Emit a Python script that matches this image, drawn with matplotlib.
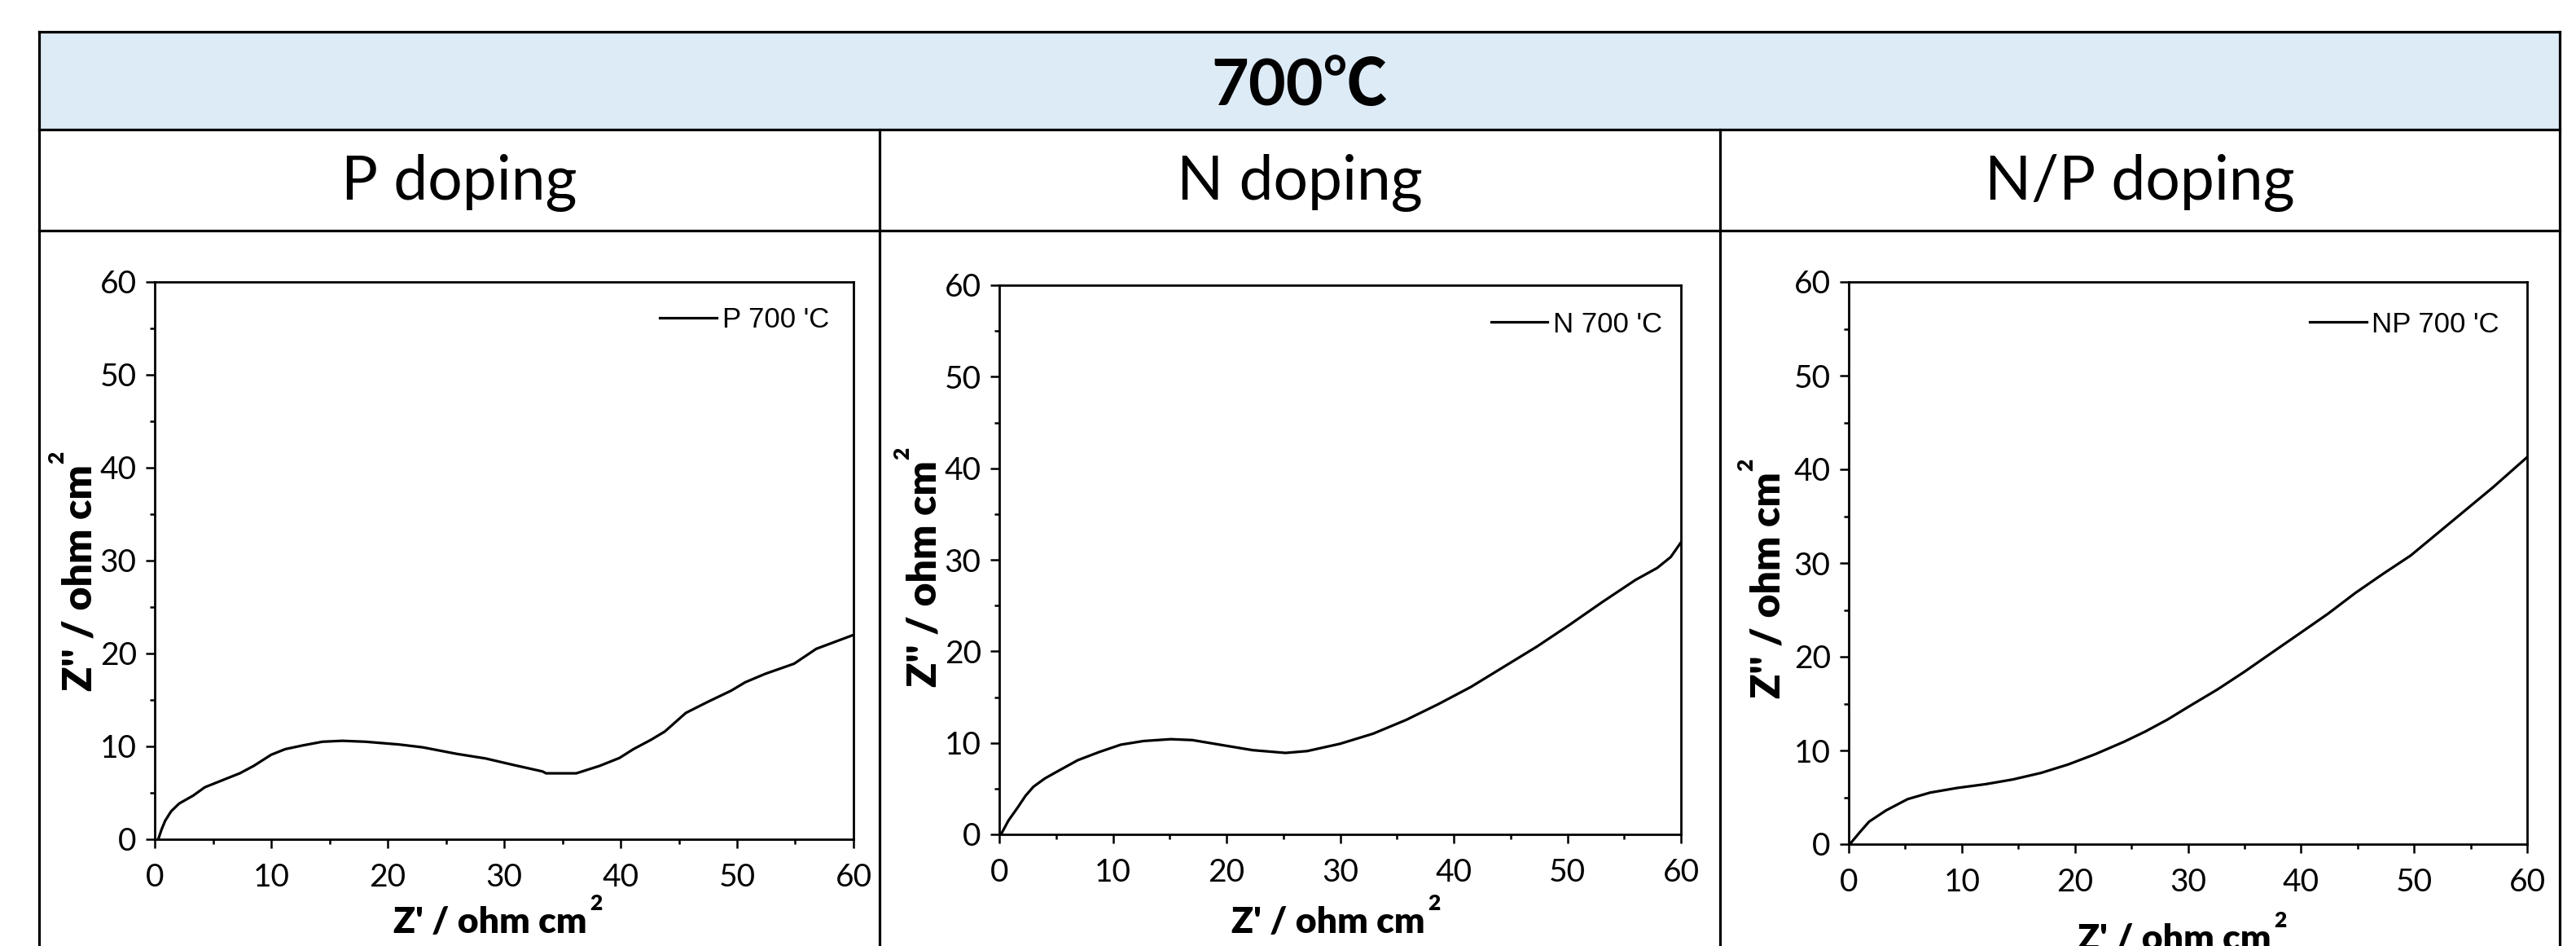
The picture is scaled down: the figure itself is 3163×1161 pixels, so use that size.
import matplotlib
matplotlib.use('Agg')
import matplotlib.pyplot as plt
from matplotlib.lines import Line2D
from matplotlib.patches import Rectangle
from matplotlib.ticker import MultipleLocator

plt.rcParams['font.family'] = ['Lato', 'Noto Sans CJK SC', 'DejaVu Sans']

# ---------- data ----------
title = '700℃'
col_titles = ['P doping', 'N doping', 'N/P doping']
legend_labels = ["P 700 'C", "N 700 'C", "NP 700 'C"]

p_x = [0.3, 0.6, 0.9, 1.4, 2.1, 3.3, 4.3, 5.5, 7.3, 8.5, 10.0, 11.2, 12.7, 14.4, 16.1, 18.1,
       21.0, 23.0, 25.9, 28.4, 30.8, 33.3, 33.6, 36.2, 38.2, 39.9, 41.1, 42.6, 43.8,
       45.6, 47.5, 49.5, 50.7, 52.4, 54.9, 56.8, 60.0]
p_y = [0.0, 1.1, 2.0, 3.0, 3.85, 4.7, 5.6, 6.2, 7.1, 7.9, 9.1, 9.7, 10.1, 10.5, 10.6, 10.5,
       10.2, 9.9, 9.2, 8.7, 8.0, 7.3, 7.1, 7.1, 7.9, 8.75, 9.7, 10.7, 11.6,
       13.6, 14.8, 16.0, 16.9, 17.8, 18.9, 20.5, 22.0]

n_x = [0.15, 0.8, 1.6, 2.3, 3.0, 4.0, 5.0, 6.9, 8.8, 10.7, 12.7, 15.1, 17.0, 19.4, 22.3,
       25.2, 27.1, 30.0, 32.9, 35.8, 38.6, 41.5, 44.4, 47.3, 50.2, 53.1, 56.0, 57.9,
       59.1, 60.0]
n_y = [0.0, 1.5, 2.9, 4.2, 5.2, 6.1, 6.8, 8.1, 9.0, 9.8, 10.2, 10.4, 10.3, 9.8, 9.2,
       8.9, 9.1, 9.9, 11.0, 12.5, 14.2, 16.1, 18.3, 20.5, 22.9, 25.4, 27.8, 29.1,
       30.3, 31.9]

np_x = [0.1, 1.0, 1.8, 3.3, 5.2, 7.2, 9.6, 12.1, 14.5, 17.0, 19.4, 21.8, 24.3, 26.2, 28.2,
        30.1, 32.6, 35.0, 37.5, 39.9, 42.4, 44.8, 47.2, 49.7, 52.1, 54.6, 57.0, 60.0]
np_y = [0.0, 1.3, 2.4, 3.6, 4.8, 5.5, 6.0, 6.4, 6.9, 7.6, 8.5, 9.6, 10.9, 12.0, 13.3,
        14.7, 16.5, 18.4, 20.5, 22.5, 24.6, 26.8, 28.8, 30.8, 33.2, 35.7, 38.1, 41.3]

series = [(p_x, p_y), (n_x, n_y), (np_x, np_y)]

# ---------- layout (pixel positions in the 3163x1161 canvas) ----------
W, H = 3163, 1161
DPI = 100

tbl_left, tbl_right = 48, 3143
tbl_top, hdr_bottom, row2_bottom = 39, 159, 283
col_edges = [48, 1080, 2112, 3143]

# axes boxes: left, right, top, bottom
axes_px = [(190, 1048, 346, 1030), (1227, 2064, 350, 1024), (2270, 3103, 346, 1036)]
# x label: left x, baseline y
xlab_px = [(483, 1145), (1512, 1145), (2551, 1166)]
# y label: baseline x, start y (bottom of the rotated text)
ylab_px = [(112, 848), (1150, 843), (2186, 857)]
# legend text right edge, legend line y
leg_px = [(1018, 393), (2041, 398), (3069, 398)]

XLAB_FS, YLAB_FS, SUP_FS = 32, 36, 19
LAB_W = 'heavy'


def fx(px):
    return px / W


def fy(py):
    return 1 - py / H


fig = plt.figure(figsize=(W / DPI, H / DPI), dpi=DPI)

# ---------- table frame ----------
fig.patches.append(Rectangle((fx(tbl_left), fy(hdr_bottom)), fx(tbl_right) - fx(tbl_left),
                             fy(tbl_top) - fy(hdr_bottom), transform=fig.transFigure,
                             facecolor='#DDEBF7', edgecolor='none', zorder=0))
lw_tbl = 2.3
for yy in [tbl_top, hdr_bottom, row2_bottom]:
    fig.add_artist(Line2D([fx(tbl_left), fx(tbl_right)], [fy(yy), fy(yy)],
                          color='black', lw=lw_tbl, transform=fig.transFigure))
for xx in [tbl_left, tbl_right]:
    fig.add_artist(Line2D([fx(xx), fx(xx)], [fy(tbl_top), 0],
                          color='black', lw=lw_tbl, transform=fig.transFigure))
for xx in col_edges[1:-1]:
    fig.add_artist(Line2D([fx(xx), fx(xx)], [fy(hdr_bottom), 0],
                          color='black', lw=lw_tbl, transform=fig.transFigure))

fig.text(fx((tbl_left + tbl_right) / 2), fy(130), title, ha='center', va='baseline',
         fontsize=57, fontweight='bold')
for i, t in enumerate(col_titles):
    fig.text(fx((col_edges[i] + col_edges[i + 1]) / 2), fy(245), t, ha='center',
             va='baseline', fontsize=54)

# ---------- plots ----------
xlabels, ylabels = [], []
for i, (xs, ys) in enumerate(series):
    l, r, t, b = axes_px[i]
    ax = fig.add_axes([fx(l), fy(b), (r - l) / W, (b - t) / H])
    ax.plot(xs, ys, color='black', lw=2.3, label=legend_labels[i])
    ax.set_xlim(0, 60)
    ax.set_ylim(0, 60)
    ax.xaxis.set_major_locator(MultipleLocator(10))
    ax.yaxis.set_major_locator(MultipleLocator(10))
    ax.xaxis.set_minor_locator(MultipleLocator(5))
    ax.yaxis.set_minor_locator(MultipleLocator(5))
    ax.tick_params(which='major', direction='out', length=8, width=1.8,
                   labelsize=28, top=False, right=False)
    ax.tick_params(axis='x', which='major', pad=13)
    ax.tick_params(axis='y', which='major', pad=8)
    ax.tick_params(which='minor', direction='out', length=4.5, width=1.8,
                   top=False, right=False)
    for s in ax.spines.values():
        s.set_linewidth(2.0)

    lx, ly = leg_px[i]
    ax.legend(loc='center right',
              bbox_to_anchor=((lx - l) / (r - l), (b - ly) / (b - t)),
              frameon=False, borderpad=0, borderaxespad=0,
              handlelength=2.0, handletextpad=0.2,
              prop={'family': ['Liberation Sans Narrow', 'Liberation Sans'], 'size': 25})

    x0, by = xlab_px[i]
    xlabels.append(fig.text(fx(x0), fy(by), "Z' / ohm cm", ha='left', va='baseline',
                            fontsize=XLAB_FS, fontweight=LAB_W))
    bx, y0 = ylab_px[i]
    ylabels.append(fig.text(fx(bx), fy(y0), "Z'' / ohm cm", ha='left', va='baseline',
                            rotation=90, rotation_mode='anchor',
                            fontsize=YLAB_FS, fontweight=LAB_W))

# superscript "2" placed right after each axis label, raised to cap height
fig.canvas.draw()
renderer = fig.canvas.get_renderer()
for i in range(3):
    bb = xlabels[i].get_window_extent(renderer)
    x0, by = xlab_px[i]
    cap = 0.72 * XLAB_FS * DPI / 72
    fig.text((bb.x1 + 4) / W, fy(by - cap + 4), '2', ha='left', va='baseline',
             fontsize=SUP_FS, fontweight=LAB_W)

    bb = ylabels[i].get_window_extent(renderer)
    bx, y0 = ylab_px[i]
    cap = 0.72 * YLAB_FS * DPI / 72
    fig.text(fx(bx - cap + 2), (bb.y1 + 1) / H, '2', ha='left', va='baseline',
             rotation=90, rotation_mode='anchor',
             fontsize=SUP_FS, fontweight=LAB_W)

fig.savefig('out.png', dpi=DPI)
